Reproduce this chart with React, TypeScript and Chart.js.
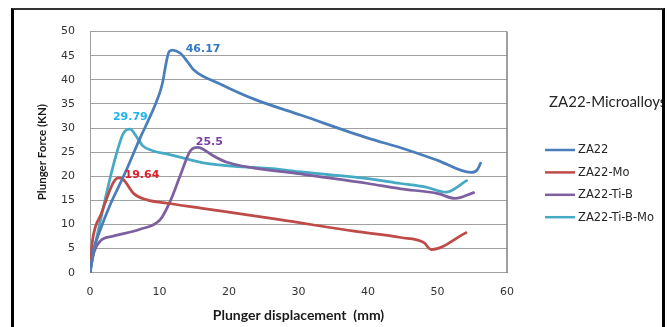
import React, { useEffect, useRef } from "react";
import { Chart, registerables } from "chart.js";

Chart.register(...registerables);

// ---- data ----
const seriesNames = ["ZA22", "ZA22-Mo", "ZA22-Ti-B", "ZA22-Ti-B-Mo"];
const seriesColors = ["#4A7EBB", "#BE4B48", "#7D60A0", "#46AAC5"];

const za22X = [0, 0.5, 1.4, 2.9, 4.5, 5.3, 7.2, 8.2, 9.4, 10.1, 10.5, 10.8, 11.1, 11.4, 11.9, 13.0, 14.0, 14.9, 18.8, 23.6, 30.3, 40.0, 44.7, 50.0, 54.8, 55.7, 56.2];
const za22Y = [0, 4.6, 8.6, 14.1, 19.0, 21.5, 27.9, 31.0, 34.9, 37.6, 39.8, 42.3, 44.5, 45.9, 46.17, 45.5, 43.8, 42.1, 39.1, 36.0, 32.7, 27.9, 25.9, 23.3, 20.8, 21.3, 22.7];

const moX = [0, 0.3, 0.8, 1.5, 2.4, 3.4, 4.1, 4.8, 6.3, 8.2, 11.1, 15.9, 27.3, 38.0, 44.7, 48.0, 49.1, 54.1];
const moY = [0, 6.0, 9.6, 11.8, 15.4, 18.8, 19.64, 19.3, 16.4, 15.1, 14.4, 13.4, 11.0, 8.6, 7.3, 6.3, 4.8, 8.3];

const tiBX = [0, 0.5, 1.5, 3.4, 7.2, 10.1, 11.5, 13.0, 14.4, 15.5, 17.8, 19.7, 30.3, 40.0, 44.7, 50.1, 52.5, 55.2];
const tiBY = [0, 3.9, 6.6, 7.6, 9.0, 11.0, 14.7, 20.2, 25.2, 26.0, 24.2, 22.9, 20.5, 18.5, 17.4, 16.4, 15.4, 16.6];

const tiBMoX = [0, 0.5, 1.9, 3.4, 4.8, 5.8, 6.6, 7.6, 9.0, 11.2, 17.0, 27.5, 30.3, 40.0, 44.7, 48.2, 51.2, 54.2];
const tiBMoY = [0, 4.0, 13.4, 22.5, 28.9, 29.79, 28.4, 26.3, 25.3, 24.6, 22.6, 21.4, 20.9, 19.5, 18.5, 17.8, 16.7, 19.1];

const peakIndex = [14, 6, 9, 5];
const peakLabels = ["46.17", "19.64", "25.5", "29.79"];
const peakLabelColors = ["#3179C4", "#E0202A", "#7A3FA6", "#1FB4EC"];
const peakLabelAlign: CanvasTextAlign[] = ["left", "left", "left", "center"];
const peakLabelDx = [13, 6, -2, 0];
const peakLabelDy = [-1, -3, -5, -12];

const legendTitle = "ZA22-Microalloys";
const xTitle = "Plunger displacement  (mm)";
const yTitle = "Plunger Force (KN)";
const xMin = 0, xMax = 60, xStep = 10;
const yMin = 0, yMax = 50, yStep = 5;

const allX = [za22X, moX, tiBX, tiBMoX];
const allY = [za22Y, moY, tiBY, tiBMoY];

const peakLabelPlugin = {
  id: "peakLabels",
  afterDatasetsDraw(chart: any) {
    const ctx = chart.ctx;
    ctx.save();
    ctx.font = 'bold 11px "DejaVu Sans"';
    ctx.textBaseline = "middle";
    peakLabels.forEach((txt, i) => {
      const pt = chart.getDatasetMeta(i).data[peakIndex[i]];
      if (!pt) return;
      ctx.fillStyle = peakLabelColors[i];
      ctx.textAlign = peakLabelAlign[i];
      ctx.fillText(txt, pt.x + peakLabelDx[i], pt.y + peakLabelDy[i]);
    });
    ctx.restore();
  },
};

const frameAndLegendPlugin = {
  id: "frameLegend",
  beforeDatasetsDraw(chart: any) {
    const { ctx, chartArea } = chart;
    ctx.save();
    ctx.strokeStyle = "#7F7F7F";
    ctx.lineWidth = 1.5;
    ctx.beginPath();
    ctx.moveTo(chartArea.right, chartArea.top);
    ctx.lineTo(chartArea.right, chartArea.bottom);
    ctx.stroke();
    ctx.restore();
  },
  afterDraw(chart: any) {
    const { ctx, chartArea } = chart;
    ctx.save();
    const lx = chartArea.right + 38;
    ctx.fillStyle = "#262626";
    ctx.textBaseline = "middle";
    ctx.textAlign = "left";
    ctx.font = '15px Lato';
    ctx.fillText(legendTitle, lx + 4, 92.5);
    ctx.font = '11.5px "DejaVu Sans"';
    seriesNames.forEach((name, i) => {
      const y = 140 + i * 22.4;
      ctx.strokeStyle = seriesColors[i];
      ctx.lineWidth = 2.5;
      ctx.beginPath();
      ctx.moveTo(lx, y);
      ctx.lineTo(lx + 30, y);
      ctx.stroke();
      ctx.fillStyle = "#262626";
      ctx.fillText(name, lx + 33, y + 0.5);
    });
    ctx.restore();
  },
};

export default function App() {
  const ref = useRef<HTMLCanvasElement>(null);
  useEffect(() => {
    if (!ref.current) return;
    const datasets = seriesNames.map((name, i) => ({
      label: name,
      data: allX[i].map((x, j) => ({ x, y: allY[i][j] })),
      borderColor: seriesColors[i],
      backgroundColor: seriesColors[i],
      borderWidth: 2.75,
      pointRadius: 0,
      pointHoverRadius: 0,
      fill: false,
      cubicInterpolationMode: "monotone" as const,
      borderCapStyle: "round" as const,
      borderJoinStyle: "round" as const,
    }));
    const chart = new Chart(ref.current, {
      type: "line",
      data: { datasets },
      options: {
        responsive: false,
        animation: false,
        events: [],
        layout: { padding: { left: 0, top: 16, right: 155, bottom: 0 } },
        plugins: {
          legend: { display: false },
          tooltip: { enabled: false },
        },
        scales: {
          x: {
            type: "linear",
            min: xMin,
            max: xMax,
            afterFit: (s: any) => { s.height = 54.3; },
            ticks: {
              stepSize: xStep,
              padding: 13,
              color: "#333333",
              font: { family: '"DejaVu Sans"', size: 11 },
            },
            grid: { display: false, drawTicks: false, tickLength: 0 },
            border: { display: true, color: "#A0A0A0", width: 1 },
            title: {
              display: true,
              text: xTitle,
              color: "#1A1A1A",
              font: { family: "Lato", size: 14, weight: "bold" },
              padding: { top: 0, bottom: 3 },
            },
          },
          y: {
            type: "linear",
            min: yMin,
            max: yMax,
            afterFit: (s: any) => { s.width = 76; },
            ticks: {
              stepSize: yStep,
              padding: 15,
              color: "#333333",
              font: { family: '"DejaVu Sans"', size: 11 },
            },
            grid: { color: "#A0A0A0", lineWidth: 1, drawTicks: false, tickLength: 0 },
            border: { display: true, color: "#A0A0A0", width: 1 },
            title: {
              display: true,
              text: yTitle,
              color: "#1A1A1A",
              font: { family: "Lato", size: 11.5, weight: "bold" },
              padding: { top: 21, bottom: 0 },
            },
          },
        },
      },
      plugins: [frameAndLegendPlugin, peakLabelPlugin],
    });
    return () => chart.destroy();
  }, []);

  return (
    <div
      style={{
        position: "fixed",
        left: 11,
        top: 8,
        width: 648,
        height: 330,
        borderLeft: "3px solid #000",
        borderRight: "3px solid #000",
        borderTop: "2px solid #333",
        background: "#fff",
      }}
    >
      <canvas ref={ref} width={648} height={317} style={{ display: "block", width: 648, height: 317 }} />
    </div>
  );
}
